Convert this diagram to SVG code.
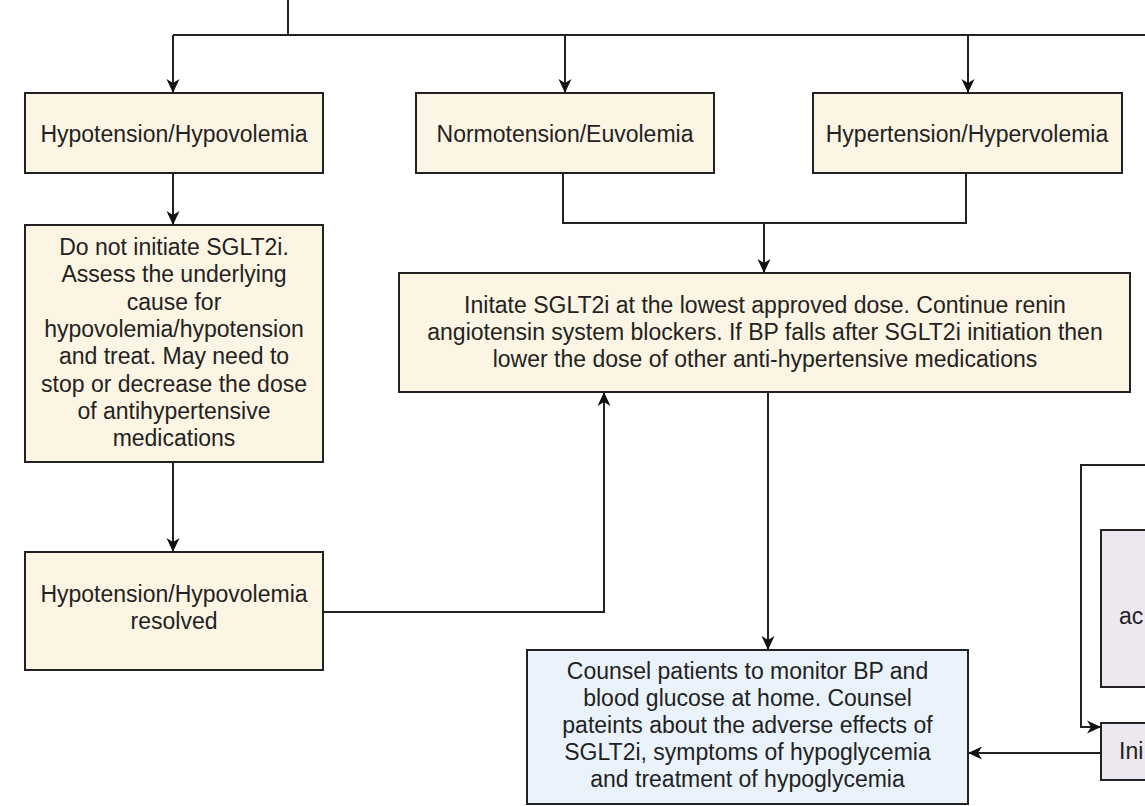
<svg xmlns="http://www.w3.org/2000/svg" width="1145" height="806" viewBox="0 0 1145 806">
<style>
.box{stroke:#222;stroke-width:2}
.cream{fill:#fdf5e3}
.blue{fill:#eaf3fb}
.purple{fill:#ede7f0}
.t{font-family:"Liberation Sans",Arial,sans-serif;font-size:23px;fill:#222;text-anchor:middle}
.tl{font-family:"Liberation Sans",Arial,sans-serif;font-size:23px;fill:#222}
.c{fill:none;stroke:#222;stroke-width:2}
</style>
<defs>
<marker id="ah" viewBox="0 0 14 14" refX="14" refY="7" markerWidth="14" markerHeight="14" markerUnits="userSpaceOnUse" orient="auto">
<path d="M0,0.5 L14,7 L0,13.5 L4,7 z" fill="#111"/>
</marker>
</defs>
<rect width="1145" height="806" fill="#fff"/>
<g id="connectors">
<path class="c" d="M288,0 V35"/>
<path class="c" d="M173,35 H1145"/>
<path class="c" d="M173,35 V93" marker-end="url(#ah)"/>
<path class="c" d="M565,35 V93" marker-end="url(#ah)"/>
<path class="c" d="M968,35 V93" marker-end="url(#ah)"/>
<path class="c" d="M173,173 V225" marker-end="url(#ah)"/>
<path class="c" d="M563,173 V223 H966 V173"/>
<path class="c" d="M764,223 V273" marker-end="url(#ah)"/>
<path class="c" d="M173,462 V552" marker-end="url(#ah)"/>
<path class="c" d="M323,612 H604 V392" marker-end="url(#ah)"/>
<path class="c" d="M768,392 V650" marker-end="url(#ah)"/>
<path class="c" d="M1145,465 H1081 V727 H1101" marker-end="url(#ah)"/>
<path class="c" d="M1101,753 H968" marker-end="url(#ah)"/>
</g>
<g id="n-hypo">
<rect class="box cream" x="25" y="93" width="298" height="80"/>
<text class="t" x="174" y="142">Hypotension/Hypovolemia</text>
</g>
<g id="n-normo">
<rect class="box cream" x="416" y="93" width="298" height="80"/>
<text class="t" x="565" y="142">Normotension/Euvolemia</text>
</g>
<g id="n-hyper">
<rect class="box cream" x="813" y="93" width="309" height="80"/>
<text class="t" x="967" y="142">Hypertension/Hypervolemia</text>
</g>
<g id="n-donot">
<rect class="box cream" x="25" y="225" width="298" height="237"/>
<text class="t" x="174" y="255">Do not initiate SGLT2i.</text>
<text class="t" x="174" y="282.3">Assess the underlying</text>
<text class="t" x="174" y="309.6">cause for</text>
<text class="t" x="174" y="336.9">hypovolemia/hypotension</text>
<text class="t" x="174" y="364.2">and treat. May need to</text>
<text class="t" x="174" y="391.5">stop or decrease the dose</text>
<text class="t" x="174" y="418.8">of antihypertensive</text>
<text class="t" x="174" y="446.1">medications</text>
</g>
<g id="n-initiate">
<rect class="box cream" x="399" y="273" width="731" height="119"/>
<text class="t" x="765" y="313">Initate SGLT2i at the lowest approved dose. Continue renin</text>
<text class="t" x="765" y="340">angiotensin system blockers. If BP falls after SGLT2i initiation then</text>
<text class="t" x="765" y="367">lower the dose of other anti-hypertensive medications</text>
</g>
<g id="n-resolved">
<rect class="box cream" x="25" y="552" width="298" height="118"/>
<text class="t" x="174" y="602">Hypotension/Hypovolemia</text>
<text class="t" x="174" y="629">resolved</text>
</g>
<g id="n-counsel">
<rect class="box blue" x="527" y="650" width="441" height="154"/>
<text class="t" x="747.5" y="679">Counsel patients to monitor BP and</text>
<text class="t" x="747.5" y="706">blood glucose at home. Counsel</text>
<text class="t" x="747.5" y="733">pateints about the adverse effects of</text>
<text class="t" x="747.5" y="760">SGLT2i, symptoms of hypoglycemia</text>
<text class="t" x="747.5" y="787">and treatment of hypoglycemia</text>
</g>
<g id="n-right1">
<rect class="box purple" x="1101" y="530" width="60" height="157"/>
<text class="tl" x="1119" y="624">ac</text>
</g>
<g id="n-right2">
<rect class="box purple" x="1101" y="723" width="60" height="57"/>
<text class="tl" x="1119" y="759">Ini</text>
</g>
</svg>
